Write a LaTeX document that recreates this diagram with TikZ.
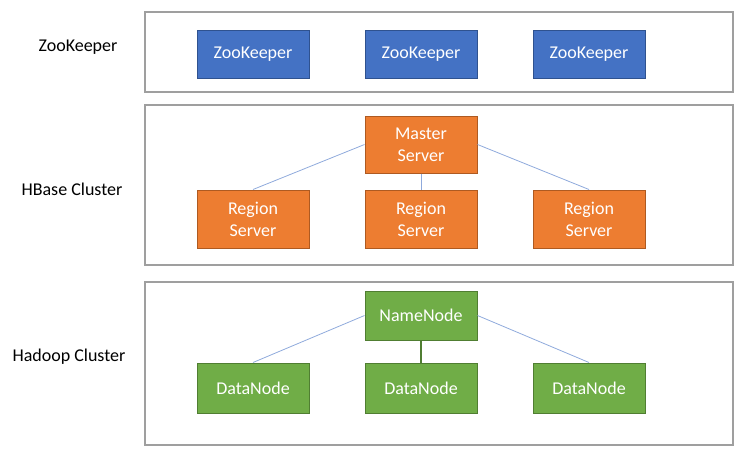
\documentclass[tikz,border=0pt]{standalone}
\usepackage{fontspec}
\setmainfont{Carlito}
\usetikzlibrary{positioning}
\definecolor{zkblue}{HTML}{4472C4}
\definecolor{zkedge}{HTML}{2F528F}
\definecolor{hborange}{HTML}{ED7D31}
\definecolor{hbedge}{HTML}{AE5A21}
\definecolor{hdgreen}{HTML}{70AD47}
\definecolor{hdedge}{HTML}{507E32}
\definecolor{linkblue}{HTML}{8FAADC}
\tikzset{
  panel/.style={draw=gray!75, line width=1.5pt, minimum width=588pt},
  tag/.style={font=\fontsize{18}{22}\selectfont},
  srv/.style={text=white, font=\fontsize{18}{22}\selectfont, align=center,
    minimum width=112pt, line width=1pt, inner sep=0pt},
  zk/.style={srv, fill=zkblue, draw=zkedge, minimum height=48pt},
  hb/.style={srv, fill=hborange, draw=hbedge, minimum height=57pt},
  hd/.style={srv, fill=hdgreen, draw=hdedge, minimum height=50pt},
  link/.style={draw=linkblue, line width=0.8pt},
}
\begin{document}
\begin{tikzpicture}[x=1pt, y=-1pt, node distance=55pt]
  \useasboundingbox (0,0) rectangle (736,453);

  % panels
  \node (zkpanel) [panel, minimum height=80pt] at (439,52) {};
  \node (hbpanel) [panel, minimum height=160pt] at (439,185) {};
  \node (hdpanel) [panel, minimum height=163pt] at (439,363.5) {};

  \node (zktag) [tag] at (78,47) {ZooKeeper};
  \node (hbtag) [tag] at (72,189) {HBase Cluster};
  \node (hdtag) [tag] at (69,357) {Hadoop Cluster};

  % zookeeper
  \node (zkm) [zk] at (421,54) {ZooKeeper};
  \node (zkl) [zk, left=of zkm] {ZooKeeper};
  \node (zkr) [zk, right=of zkm] {ZooKeeper};

  % hbase
  \node (ms) [hb] at (421,144.5) {Master\\Server};
  \node (rsm) [hb, minimum height=58pt, below=16pt of ms] {Region\\Server};
  \node (rsl) [hb, minimum height=58pt, left=of rsm] {Region\\Server};
  \node (rsr) [hb, minimum height=58pt, right=of rsm] {Region\\Server};

  % hadoop
  \node (nn) [hd, minimum height=49pt] at (421,315.5) {NameNode};
  \node (dnm) [hd, below=22pt of nn] {DataNode};
  \node (dnl) [hd, left=of dnm] {DataNode};
  \node (dnr) [hd, right=of dnm] {DataNode};

  \draw[link] (ms.west) -- (rsl.north);
  \draw[link] (ms.south) -- (rsm.north);
  \draw[link] (ms.east) -- (rsr.north);
  \draw[link] (nn.west) -- (dnl.north);
  \draw[draw=hdedge, line width=1.5pt] (nn.south) -- (dnm.north);
  \draw[link] (nn.east) -- (dnr.north);
\end{tikzpicture}
\end{document}
